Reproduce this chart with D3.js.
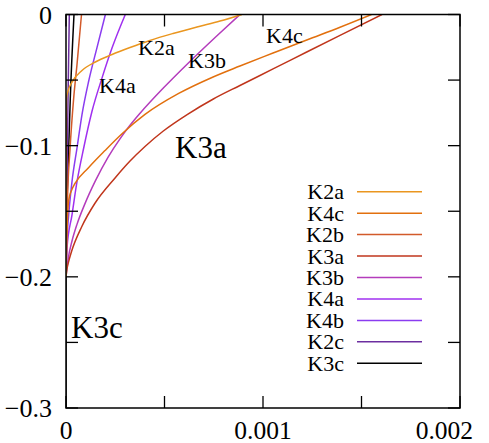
<!DOCTYPE html>
<html>
<head>
<meta charset="utf-8">
<script src="https://cdn.jsdelivr.net/npm/d3@7"></script>
<style>
  body { margin: 0; background: #fff; }
  text { font-family: "Liberation Serif", "Times New Roman", serif; fill: #000; }
</style>
</head>
<body>
<script>
// series names, legend order
let names = ["K2a", "K4c", "K2b", "K3a", "K3b", "K4a", "K4b", "K2c", "K3c"];

// curves, [x, y]
let K2a = [[0, -0.2], [0.000001, -0.12], [0.000002, -0.0639], [0.0000102, -0.0583], [0.0000305, -0.0515],
  [0.0000812, -0.0427], [0.000149, -0.0362], [0.000234, -0.0305], [0.000325, -0.0252], [0.000426, -0.0198],
  [0.000543, -0.0145], [0.000665, -0.0095], [0.000782, -0.005], [0.000893, 0]];
let K4c = [[0, -0.2], [0.000003, -0.1757], [0.0000066, -0.1582], [0.0000117, -0.1445], [0.0000203, -0.1372],
  [0.0000289, -0.1338], [0.0000457, -0.1288], [0.000113, -0.117], [0.000198, -0.1037], [0.000283, -0.0911],
  [0.000401, -0.0762], [0.000572, -0.0602], [0.000741, -0.048], [0.000883, -0.0393], [0.001051, -0.0294],
  [0.001222, -0.0194], [0.001391, -0.0097], [0.001551, 0]];
let K2b = [[0, -0.2], [0.0000076, -0.141], [0.0000203, -0.103], [0.0000391, -0.0636], [0.0000558, -0.0382],
  [0.0000787, 0]];
let K3a = [[0, -0.2], [0.0000051, -0.194], [0.0000117, -0.1894], [0.0000289, -0.1803], [0.0000797, -0.1618],
  [0.000147, -0.1439], [0.000249, -0.1246], [0.000325, -0.1117], [0.000401, -0.1006], [0.000494, -0.0888],
  [0.000619, -0.0759], [0.000748, -0.0644], [0.000883, -0.0541], [0.001051, -0.0415], [0.001222, -0.0286],
  [0.001391, -0.0159], [0.001604, 0]];
let K3b = [[0, -0.2], [0.0000051, -0.1927], [0.0000127, -0.1847], [0.0000305, -0.1727], [0.0000558, -0.16],
  [0.0000964, -0.1442], [0.000149, -0.1269], [0.000213, -0.1089], [0.000274, -0.0948], [0.000325, -0.0845],
  [0.000376, -0.0753], [0.000494, -0.0561], [0.000629, -0.0358], [0.000765, -0.0164], [0.000883, 0]];
let K4a = [[0, -0.2], [0.0000051, -0.178], [0.0000305, -0.1527], [0.0000558, -0.1275], [0.0000898, -0.1018],
  [0.000132, -0.0738], [0.000183, -0.0483], [0.000234, -0.0254], [0.000301, 0]];
let K4b = [[0, -0.2], [0.0000051, -0.1718], [0.0000137, -0.1527], [0.0000305, -0.1273], [0.0000558, -0.1018],
  [0.0000812, -0.0763], [0.000115, -0.0509], [0.000157, -0.0254], [0.0002, 0]];
let K2c = [[0, -0.2], [0.0000051, -0.126], [0.0000102, -0.065], [0.0000168, 0]];
let K3c = [[0, -0.3], [0, -0.2], [0.0000025, -0.164], [0.0000102, -0.1183], [0.0000218, -0.0634], [0.0000406, 0]];

let seriesValues = [K2a, K4c, K2b, K3a, K3b, K4a, K4b, K2c, K3c];
let colors = ["#ea961f", "#e2700e", "#d25a2a", "#c0361c", "#b43cbc", "#a030f0", "#8a3cf0", "#6c2ea0", "#000000"];

let xTicks = [0, 0.0005, 0.001, 0.0015, 0.002];
let xTickLabels = ["0", "", "0.001", "", "0.002"];
let yTicks = [0, -0.05, -0.1, -0.15, -0.2, -0.25, -0.3];
let yTickLabels = ["0", "", "\u22120.1", "", "\u22120.2", "", "\u22120.3"];

let width = 489, height = 443;
let plotLeft = 66, plotRight = 460, plotTop = 14.5, plotBottom = 408;

let svg = d3.select("body").append("svg")
    .attr("width", width).attr("height", height);

let x = d3.scaleLinear().domain([0, 0.002]).range([plotLeft, plotRight]);
let y = d3.scaleLinear().domain([-0.3, 0]).range([plotBottom, plotTop]);

svg.append("clipPath").attr("id", "plot")
  .append("rect").attr("x", plotLeft).attr("y", plotTop)
  .attr("width", plotRight - plotLeft).attr("height", plotBottom - plotTop);

// curves
let line = d3.line()
    .x(d => x(d[0]))
    .y(d => y(d[1]))
    .curve(d3.curveMonotoneX);

svg.append("g").attr("clip-path", "url(#plot)")
  .selectAll("path")
  .data(seriesValues.slice().reverse())
  .enter().append("path")
  .attr("d", line)
  .attr("fill", "none")
  .attr("stroke", (d, i) => colors[colors.length - 1 - i])
  .attr("stroke-width", 1.5);

// ticks, inside and mirrored
let tickLen = 12;
let axes = svg.append("g").attr("stroke", "#000").attr("stroke-width", 1.3);
xTicks.forEach(t => {
  axes.append("line").attr("x1", x(t)).attr("x2", x(t)).attr("y1", plotBottom).attr("y2", plotBottom - tickLen);
  axes.append("line").attr("x1", x(t)).attr("x2", x(t)).attr("y1", plotTop).attr("y2", plotTop + tickLen);
});
yTicks.forEach(t => {
  axes.append("line").attr("y1", y(t)).attr("y2", y(t)).attr("x1", plotLeft).attr("x2", plotLeft + tickLen);
  axes.append("line").attr("y1", y(t)).attr("y2", y(t)).attr("x1", plotRight).attr("x2", plotRight - tickLen);
});

svg.append("rect")
  .attr("x", plotLeft).attr("y", plotTop)
  .attr("width", plotRight - plotLeft).attr("height", plotBottom - plotTop)
  .attr("fill", "none").attr("stroke", "#000").attr("stroke-width", 1.5);

// tick labels
svg.selectAll(".xlab")
  .data(xTicks)
  .enter().append("text")
  .attr("class", "xlab")
  .attr("x", (d, i) => i === xTicks.length - 1 ? width - 16 : x(d))
  .attr("y", 439)
  .attr("text-anchor", (d, i) => i === xTicks.length - 1 ? "end" : "middle")
  .style("font-size", "25.5px")
  .text((d, i) => xTickLabels[i]);

svg.selectAll(".ylab")
  .data(yTicks)
  .enter().append("text")
  .attr("class", "ylab")
  .attr("x", 52)
  .attr("y", d => y(d) + 9)
  .attr("text-anchor", "end")
  .style("font-size", "26px")
  .text((d, i) => yTickLabels[i]);

// legend
let legend = svg.append("g");
names.forEach((n, i) => {
  let ly = 191.7 + i * 21.45;
  legend.append("text")
    .attr("x", 344).attr("y", ly + 7.5)
    .attr("text-anchor", "end")
    .style("font-size", "22px")
    .text(n);
  legend.append("line")
    .attr("x1", 357).attr("x2", 422)
    .attr("y1", ly).attr("y2", ly)
    .attr("stroke", colors[i]).attr("stroke-width", 1.5);
});

// curve labels
let notes = [
  ["K2a", 138, 55, 22], ["K3b", 188, 67.5, 22], ["K4a", 99, 93, 22], ["K4c", 266, 42.5, 22],
  ["K3a", 175, 157.5, 31], ["K3c", 71, 338, 31]
];
notes.forEach(a => {
  svg.append("text")
    .attr("x", a[1]).attr("y", a[2])
    .style("font-size", a[3] + "px")
    .text(a[0]);
});
</script>
</body>
</html>
